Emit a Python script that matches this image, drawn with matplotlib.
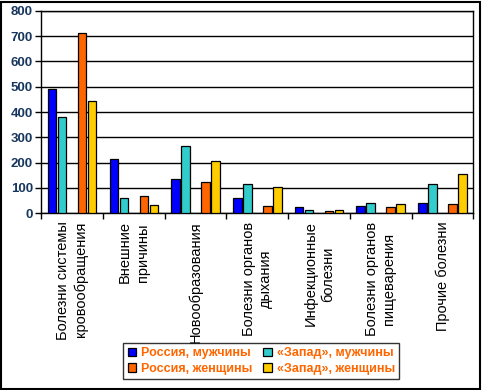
import matplotlib.pyplot as plt
import numpy as np
from matplotlib.patches import Rectangle

plt.rcParams['font.family'] = ['Liberation Sans', 'DejaVu Sans']

categories = ['Болезни системы\nкровообращения', 'Внешние\nпричины', 'Новообразования',
              'Болезни органов\nдыхания', 'Инфекционные\nболезни', 'Болезни органов\nпищеварения',
              'Прочие болезни']
rus_m = [490, 213, 134, 59, 24, 28, 40]
west_m = [380, 59, 266, 114, 12, 40, 114]
rus_f = [710, 67, 122, 28, 8, 24, 36]
west_f = [443, 32, 205, 103, 12, 36, 155]
series_names = ['Россия, мужчины', '«Запад», мужчины', 'Россия, женщины', '«Запад», женщины']
colors = ['#0000FF', '#33CCCC', '#FF6600', '#FFCC00']

fig = plt.figure(figsize=(4.82, 3.9), dpi=100)
ax = fig.add_axes([0.0857, 0.453, 0.8963, 0.5196])

x = np.arange(len(categories))
slot = 0.162
# slots: -2, -1, (empty), +1, +2
offsets = [-2, -1, 1, 2]
for vals, off, c in zip([rus_m, west_m, rus_f, west_f], offsets, colors):
    ax.bar(x + off * slot, vals, width=0.14, color=c, edgecolor='black', linewidth=0.9, zorder=3)

ax.set_xlim(-0.5, len(categories) - 0.5)
ax.set_ylim(0, 800)
ax.set_yticks(range(0, 801, 100))
ax.grid(axis='y', color='black', linewidth=1, zorder=0)
for s in ax.spines.values():
    s.set_color('black')
    s.set_linewidth(1)

ax.set_xticks(np.arange(len(categories) + 1) - 0.5)
ax.set_xticklabels([])
ax.tick_params(axis='x', direction='out', length=4, width=1)
ax.tick_params(axis='y', direction='out', length=4, width=1, pad=2,
               labelsize=9.5, labelcolor='#17365D')
for lb in ax.get_yticklabels():
    lb.set_fontweight('bold')

aligns = ['right', 'center', 'center', 'center', 'center', 'center', 'center']
for i, (lab, al) in enumerate(zip(categories, aligns)):
    ax.text(i, -0.04, lab, transform=ax.get_xaxis_transform(), rotation=90,
            ha='center', va='top', multialignment=al, fontsize=10.5, linespacing=1.3)

handles = [Rectangle((0, 0), 1, 1, facecolor=c, edgecolor='black', linewidth=0.9) for c in colors]
order = [0, 2, 1, 3]
leg = fig.legend([handles[k] for k in order], [series_names[k] for k in order],
                 loc='center', bbox_to_anchor=(0.542, 0.074), ncol=2, frameon=True,
                 fancybox=False, edgecolor='black', handlelength=0.7, handleheight=0.7,
                 handletextpad=0.35, columnspacing=0.9, labelspacing=0.3,
                 borderpad=0.35, prop={'size': 9, 'weight': 'bold'})
leg.get_frame().set_linewidth(1)
for t in leg.get_texts():
    t.set_color('#FF6600')

fig.patches.append(Rectangle((0.002, 0.003), 0.994, 0.993, transform=fig.transFigure,
                             fill=False, edgecolor='black', linewidth=1.5))

fig.savefig('out.png', dpi=100)
